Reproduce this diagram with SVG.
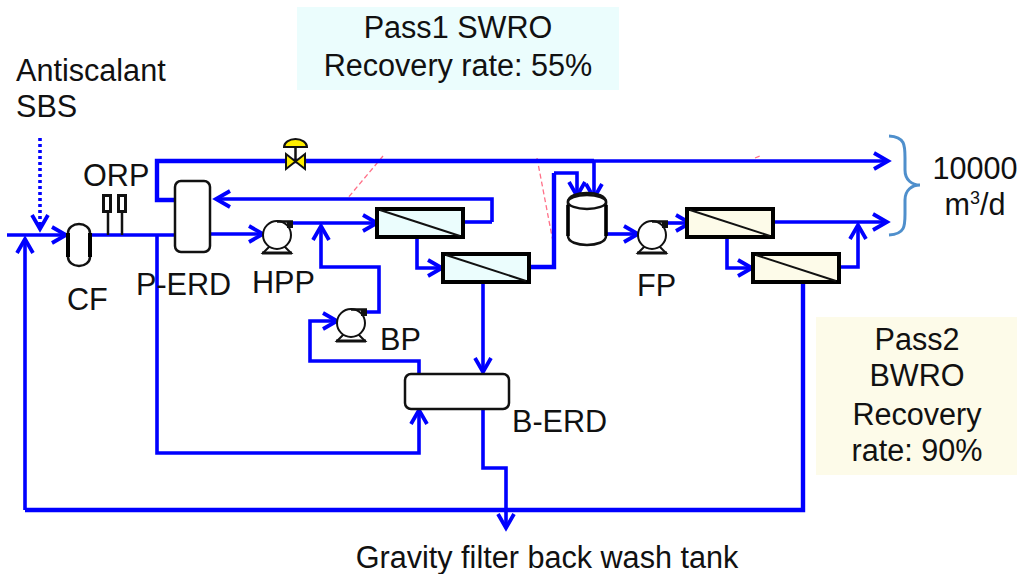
<svg xmlns="http://www.w3.org/2000/svg" width="1021" height="574" viewBox="0 0 1021 574">
<style>
text{font-family:"Liberation Sans",Arial,sans-serif;font-size:30.6px;fill:#111}
.m{text-anchor:middle}
.c{fill:none;stroke:#0000ff;stroke-width:3.6;stroke-linejoin:miter}
.t{stroke-width:4.4}
.a{marker-end:url(#ah)}
.d{fill:none;stroke:#ff7088;stroke-width:1.3;stroke-dasharray:5 3}
.s{stroke:#111;stroke-width:2.5;fill:#fff}
.mem{stroke:#000;stroke-width:4}
.pump{fill:#fff;stroke:#111;stroke-width:2}
</style>
<defs>
<marker id="ah" markerUnits="userSpaceOnUse" markerWidth="20" markerHeight="22" refX="16" refY="11" orient="auto"><path d="M2 3L16 11L2 19" fill="none" stroke="#0000ff" stroke-width="3.8"/></marker>
<g id="pump"><path d="M-7 11L-14 18H14L7 11" fill="#fff" stroke="#111" stroke-width="2"/><path d="M-15 18H15" stroke="#111" stroke-width="3"/><circle r="14" class="pump"/><path d="M0 -13.5H16" fill="none" stroke="#111" stroke-width="2.5"/><rect x="10" y="-13" width="6" height="6" fill="#111"/></g>
</defs>
<g id="pass1-box"><rect x="297" y="7" width="322" height="83" fill="#ebfdfd"/><text class="m" x="458" y="38">Pass1 SWRO</text><text class="m" x="458" y="76">Recovery rate: 55%</text></g>
<g id="pass2-box"><rect x="816" y="317" width="201" height="158" fill="#fdfbe9"/><text class="m" x="917" y="350">Pass2</text><text class="m" x="917" y="386">BWRO</text><text class="m" x="917" y="425">Recovery</text><text class="m" x="917" y="461">rate: 90%</text></g>
<g id="connectors">
<path class="d" d="M383 156L347 199M537 158L554 247M755 158L760 156"/>
<path d="M40 138V229" fill="none" stroke="#0000ff" stroke-width="3.6" stroke-dasharray="3 3" marker-end="url(#ah)"/>
<path class="c a" d="M7 235H66"/>
<path class="c a" d="M25 510V239"/>
<path class="c t" d="M25 510H803V282"/>
<path class="c" d="M91 235H175"/>
<path class="c a" d="M211 234H263"/>
<path class="c t" d="M175 200H157V161H594"/>
<path class="c a" d="M594 161H888"/>
<path class="c a" d="M594 161V198"/>
<path class="c a" d="M492 222V199H216"/>
<path class="c" d="M463 222H492"/>
<path class="c a" d="M290 223H377"/>
<path class="c a" d="M417 237V268H442"/>
<path class="c t" d="M529 267H554V173"/>
<path class="c a" d="M554 173H577V196"/>
<path class="c a" d="M606 234H638"/>
<path class="c a" d="M667 223H690"/>
<path class="c a" d="M727 237V268H752"/>
<path class="c a" d="M774 222H887"/>
<path class="c a" d="M839 267H858V225"/>
<path class="c a" d="M483 283V372"/>
<path class="c a" d="M483 409V468H506V528"/>
<path class="c a" d="M157 235V453H419V410"/>
<path class="c a" d="M419 374V361H310V321H337"/>
<path class="c a" d="M365 312H379V267H321V226"/>
<path d="M889 136C905 137 905 145 905 158V170C905 180 912 185 920 185C912 185 905 190 905 200V214C905 226 905 234 889 235" fill="none" stroke="#4f8fcc" stroke-width="3"/>
</g>
<g id="CF"><rect x="68" y="224" width="22" height="42" rx="11" ry="9" class="s"/><path d="M68 233V257M90 233V257" stroke="#000" stroke-width="4"/><text x="67" y="310">CF</text></g>
<g id="ORP"><rect x="103.500" y="195.500" width="7" height="16" fill="#fff" stroke="#111" stroke-width="3"/><rect x="118.500" y="195.500" width="7" height="16" fill="#fff" stroke="#111" stroke-width="3"/><path d="M108 211V235M122 211V235" stroke="#111" stroke-width="2.5"/><text x="83" y="186">ORP</text></g>
<g id="P-ERD"><rect x="175" y="181" width="35" height="71" rx="6" class="s"/><text x="136" y="295">P-ERD</text></g>
<g id="HPP"><use href="#pump" x="277" y="235"/><text x="252" y="293">HPP</text></g>
<g id="valve"><path d="M284 147a11.500 8 0 0 1 23 0z" fill="#ffee00" stroke="#111" stroke-width="2"/><path d="M295.500 147V161" stroke="#111" stroke-width="2.500"/><path d="M286 154L295.500 161.500L286 169zM305 154L295.500 161.500L305 169z" fill="#ffee00" stroke="#111" stroke-width="2"/></g>
<g id="membrane1"><rect x="377" y="209" width="86" height="28" fill="#ebfdfd" class="mem"/><path d="M380 210L460 236" stroke="#111" stroke-width="2"/></g>
<g id="membrane2"><rect x="443" y="254" width="86" height="28" fill="#ebfdfd" class="mem"/><path d="M446 255L526 281" stroke="#111" stroke-width="2"/></g>
<g id="tank"><path d="M568 202V236C568 248 606 248 606 236V202C606 190 568 190 568 202Z" class="s"/><ellipse cx="587" cy="202" rx="19" ry="7" class="s"/><path d="M568 205V236M606 205V236" stroke="#000" stroke-width="3.500"/></g>
<g id="FP"><use href="#pump" x="652" y="235"/><text x="637" y="296">FP</text></g>
<g id="membrane3"><rect x="687" y="209" width="86" height="28" fill="#fdfbe9" class="mem"/><path d="M690 210L770 236" stroke="#111" stroke-width="2"/></g>
<g id="membrane4"><rect x="753" y="254" width="86" height="28" fill="#fdfbe9" class="mem"/><path d="M756 255L836 281" stroke="#111" stroke-width="2"/></g>
<g id="BP"><use href="#pump" x="351" y="323"/><text x="380" y="350">BP</text></g>
<g id="B-ERD"><rect x="405" y="374" width="104" height="35" rx="6" class="s"/><text x="512" y="432">B-ERD</text></g>
<g id="labels"><text x="16" y="81">Antiscalant</text><text x="16" y="117">SBS</text><text class="m" x="975" y="179">10000</text><text class="m" x="975" y="215">m<tspan font-size="18" dy="-11">3</tspan><tspan dy="11">/d</tspan></text><text class="m" x="547" y="568">Gravity filter back wash tank</text></g>
</svg>
